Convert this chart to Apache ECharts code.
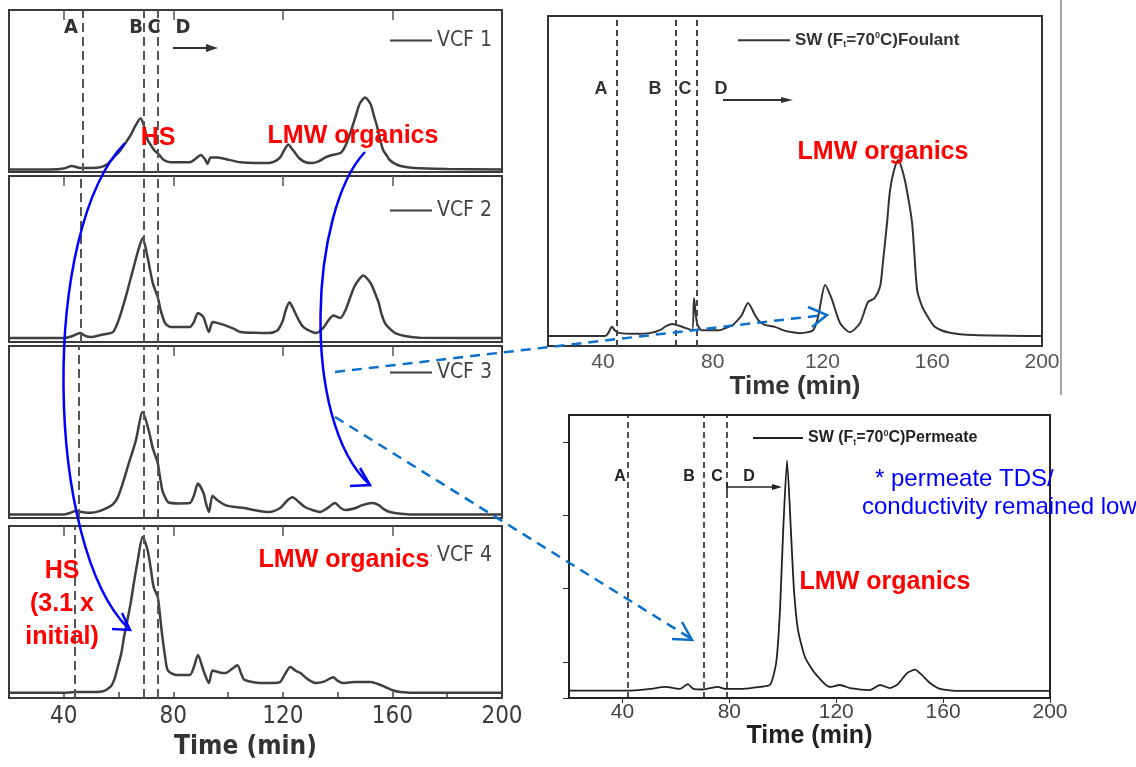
<!DOCTYPE html>
<html>
<head>
<meta charset="utf-8">
<script src="https://cdn.jsdelivr.net/npm/echarts@6/dist/echarts.min.js"></script>
<style>
  html, body { margin: 0; padding: 0; background: #fff; }
  #chart { width: 1136px; height: 767px; }
</style>
</head>
<body>
<div id="chart"></div>
<script>
// ---- Chromatogram traces: [time (min), relative response] ----
const vcf1 = [[20,1.5],[35,1.6],[40,2.2],[43,3.7],[46,2.5],[50,2.5],[53.5,3],[56,5],[58,8.6],[60.5,13],[62.6,18],[64.5,23],[66,28],[68,33],[69,30],[70.6,20],[72,16],[73,13.5],[74.6,11],[76.5,7.4],[79,6],[86,6],[88,8],[90,10.5],[91.5,8],[92.5,5],[93.6,9],[96,9],[99,8],[104.5,6],[110,5.5],[115,5.5],[117,6.5],[119,9],[120.5,13.5],[122,17],[123,15],[124.5,11.7],[126,8.5],[128,6.2],[130.7,5.5],[133,6.5],[135.5,9],[138,10.5],[141,11.7],[142.8,16],[144.6,24],[146.5,34],[148,42],[150,46],[152,42],[153.2,35],[154.4,28],[155.5,20],[156.6,13.6],[158,10],[159,7.4],[161,5],[163,3.7],[166,2.8],[170,2.3],[180,1.8],[200,1.5]];
const vcf2 = [[20,2.4],[40,2.4],[43,3.5],[46,5.4],[48,3.5],[50,3],[53.5,4.2],[56,5],[58,6],[60,13],[62.6,27],[65.5,45],[67.5,57],[68.8,62.6],[70.6,51],[72.5,35.5],[74.3,27],[75.4,19],[77,11.4],[79,9],[86,9],[87.5,12],[89,17.5],[91,15],[92,10],[93,6],[94.3,12],[96,11.5],[99,10],[102,8],[104.5,6],[110,5.5],[115,5.4],[118,7],[120,13],[121,19],[122.4,24],[123.5,21],[124.5,17.5],[126,12.5],[127.5,9],[130,6.5],[132,5.4],[134.5,8],[136.6,13],[138.4,16],[140,15],[141,14.5],[142.8,19],[144.6,27],[146,33],[147.5,37],[149.3,40],[152,35.5],[153.5,30],[155,23.5],[156,17],[157.3,11.4],[159,8],[161,5.4],[165,3.5],[170,2.6],[200,2.4]];
const vcf3 = [[20,2],[40,2],[42,2.8],[44.5,4],[47,3.3],[50,3],[53,4],[56,6],[58,8],[59.7,12],[61.5,20],[63.4,30],[66.3,45],[68.8,61.6],[71,51],[72.5,40.6],[74.3,32],[75,25],[76,16],[77,12],[78.3,9],[82,8.5],[86,8.7],[87.5,13],[89,20],[91,14.5],[92,8],[93,3.5],[94.3,13],[96,10.5],[99,7.5],[102,6.5],[106,5.8],[110,4.5],[115,3.5],[119,5.8],[121.5,10],[123.5,12],[126,9],[128,6.4],[131,4.5],[133.6,3.5],[136.5,6],[139,8.7],[141,6],[142.8,4.6],[146,5.5],[149,7.5],[152.6,8.7],[155,7.5],[157,5],[159,3.5],[163,2.5],[170,2],[200,2]];
const vcf4 = [[20,3],[40,3],[44,3.5],[50,3.5],[54,3.8],[57,6.4],[58.5,11],[59.7,18],[61,26],[62,35.5],[63.2,45],[64.4,55],[65.7,68],[67,80],[68.8,93.6],[70.6,86],[71.7,76],[72.8,64.5],[74.3,58.7],[75.2,47],[76,35.5],[77,24],[78,16],[81,13.4],[86,13.4],[87.5,18],[89,25],[91,16],[93,8.7],[94.3,16],[96.5,15],[99,14.5],[101.5,17],[103.4,19],[104.8,14],[106,10.5],[111.8,8.7],[116,8.7],[119,9.3],[120.8,14],[122.7,18],[124.5,16],[126.4,14.5],[129,11],[132,8.7],[135,9.5],[138.4,12],[140,10],[142,8.7],[146,9.3],[152,9.3],[155,8],[157.3,6.4],[160,4.5],[163,3.5],[170,3],[200,3]];
const foulant = [[20,3],[40.8,3],[42,4],[43.3,5.8],[44.5,4.6],[46.2,3.9],[52,3.7],[57,3.9],[60.8,4.8],[63,6],[65.2,6.7],[67.5,6.2],[70,5.5],[72.5,4.8],[73.2,14.5],[74.3,7],[76,4.8],[82.7,4.8],[85,5.5],[87.4,6.4],[89.2,7.9],[90.7,9.5],[92.9,13],[95.4,9.4],[97,7.5],[99,6.4],[102.7,5.8],[105.6,4.8],[108,4.3],[111.8,3.9],[116.6,4.8],[118.4,8.8],[121,18.5],[123.5,14],[126.4,7],[130,4.2],[133.7,7],[136.6,13.3],[139,14.5],[141,18],[142,25],[143.5,37],[144.6,47],[146,53],[147.6,56.4],[149.2,53],[150.8,47],[152.7,37],[154.5,17],[156.3,12],[158,9.4],[161,5.8],[166.5,4],[175,3.3],[200,3]];
const permeate = [[20,2.6],[40,2.6],[46,2.8],[50.3,3.2],[55.9,3.9],[61.5,3.2],[64.5,4.9],[66.5,3.2],[70,3],[75.8,3.9],[78.4,3.2],[85,3.2],[91.5,3.9],[95.2,4.6],[96.8,9],[97.8,14.5],[99,32],[100.1,58],[101.6,84],[103.1,58],[104.2,38],[105.7,24],[108.3,14.5],[112,8.8],[117.7,3.9],[121.4,4.6],[125.2,3.5],[132.6,2.8],[136.4,4.6],[140.1,3.5],[143.1,4.9],[146.5,8.8],[149.5,10],[152.1,8.1],[155.1,5.3],[158.8,3.2],[166.3,2.5],[200,2.5]];

// ---- Names and fraction boundaries (A, B, C; D starts at C) ----
const vcfNames = ['VCF 1', 'VCF 2', 'VCF 3', 'VCF 4'];
const foulantName = 'SW (Ft=70\u2070C)Foulant';
const permeateName = 'SW (Ft=70\u2070C)Permeate';
const vcfBoundaryA = [46.8, 46.2, 45.5, 44];
const vcfBoundaryBC = [69.2, 74.4];
const foulantBoundaries = [45.1, 66.6, 74.3];
const permeateBoundaries = [42.1, 70.5, 79.1];
const xTickLabels = [40, 80, 120, 160, 200];
const xTopTicks = [40, 80, 120, 160];
const xMinorTicks = [40, 60, 80, 100, 120, 140, 160, 180];
const permeateYTicks = [0, 12.7, 38.9, 64.7, 90.5];

const NARROW = "'Liberation Sans Narrow', 'DejaVu Sans Condensed', 'Liberation Sans', Arial, sans-serif";
const SANS = "'Liberation Sans', Arial, Helvetica, sans-serif";

const chart = echarts.init(document.getElementById('chart'), null, { renderer: 'canvas' });

// stacked VCF panels on the left
const leftBands = [[10, 162], [176, 166], [346, 172], [526, 172]];
const leftX = 9, leftW = 493;

const grids = leftBands.map(([top, height]) => ({
  left: leftX, top, width: leftW, height,
  show: true, borderColor: '#3a3a3a', borderWidth: 2, backgroundColor: 'transparent'
}));
grids.push({ left: 548, top: 16, width: 494, height: 330, show: true, borderColor: '#333', borderWidth: 2, backgroundColor: 'transparent' });
grids.push({ left: 569, top: 415, width: 481, height: 283, show: true, borderColor: '#222', borderWidth: 2, backgroundColor: 'transparent' });

const baseX = (gi) => ({
  type: 'value', gridIndex: gi, min: 20, max: 200, position: 'bottom',
  axisLine: { show: false }, splitLine: { show: false },
  axisTick: { show: false }, axisLabel: { show: false }
});

const xAxes = [];
for (let i = 0; i < 4; i++) xAxes.push(baseX(i));
// bottom axis of the last VCF panel carries labels and the axis title
Object.assign(xAxes[3], {
  axisTick: { show: true, inside: true, length: 6, customValues: xMinorTicks, lineStyle: { color: '#444', width: 1.5 } },
  axisLabel: { show: true, customValues: xTickLabels, margin: 7, fontFamily: NARROW, fontSize: 24, color: '#3a3a3a' },
  name: 'Time (min)', nameLocation: 'middle', nameGap: 36,
  nameTextStyle: { fontFamily: NARROW, fontSize: 26, fontWeight: 'bold', color: '#333', padding: [0, 20, 0, 0] }
});
// foulant axis
xAxes.push(Object.assign(baseX(4), {
  axisLabel: { show: true, customValues: xTickLabels, margin: 6, fontFamily: SANS, fontSize: 21, color: '#555' },
  name: 'Time (min)', nameLocation: 'middle', nameGap: 23,
  nameTextStyle: { fontFamily: SANS, fontSize: 26, fontWeight: 'bold', color: '#333' }
}));
// permeate axis
xAxes.push(Object.assign(baseX(5), {
  axisTick: { show: true, inside: false, length: 5, customValues: xTickLabels, lineStyle: { color: '#333' } },
  axisLabel: { show: true, customValues: xTickLabels, margin: 4, fontFamily: SANS, fontSize: 21, color: '#444' },
  name: 'Time (min)', nameLocation: 'middle', nameGap: 17,
  nameTextStyle: { fontFamily: SANS, fontSize: 25, fontWeight: 'bold', color: '#222' }
}));
// inward ticks along the top edge of each VCF panel
for (let i = 0; i < 4; i++) {
  xAxes.push({
    type: 'value', gridIndex: i, min: 20, max: 200, position: 'top',
    axisLine: { show: false }, splitLine: { show: false }, axisLabel: { show: false },
    axisTick: { show: true, inside: true, length: 10, customValues: xTopTicks, lineStyle: { color: '#555', width: 1.5 } }
  });
}

const yAxes = [];
for (let i = 0; i < 6; i++) {
  yAxes.push({
    type: 'value', gridIndex: i, min: 0, max: 100, show: i === 5,
    axisLine: { show: false }, splitLine: { show: false }, axisLabel: { show: false },
    axisTick: i === 5
      ? { show: true, inside: false, length: 6, customValues: permeateYTicks, lineStyle: { color: '#333' } }
      : { show: false }
  });
}

const boundaryLines = (values, color, width, dash) => ({
  silent: true, symbol: ['none', 'none'], animation: false,
  label: { show: false },
  lineStyle: { type: dash, color, width },
  data: values.map(v => ({ xAxis: v }))
});

const vcfData = [vcf1, vcf2, vcf3, vcf4];
const series = vcfData.map((d, i) => ({
  name: vcfNames[i], type: 'line', xAxisIndex: i, yAxisIndex: i, data: d,
  symbol: 'none', smooth: 0.25, color: '#3f3f3f',
  lineStyle: { width: 2.5, color: '#3f3f3f' },
  markLine: boundaryLines([vcfBoundaryA[i]].concat(vcfBoundaryBC), '#555', 2, [9, 5])
}));
series.push({
  name: foulantName, type: 'line', xAxisIndex: 4, yAxisIndex: 4, data: foulant,
  symbol: 'none', smooth: 0.25, color: '#333', lineStyle: { width: 2, color: '#333' },
  markLine: boundaryLines(foulantBoundaries, '#444', 2, [6, 4])
});
series.push({
  name: permeateName, type: 'line', xAxisIndex: 5, yAxisIndex: 5, data: permeate,
  symbol: 'none', smooth: 0.2, color: '#222', lineStyle: { width: 1.8, color: '#222' },
  markLine: boundaryLines(permeateBoundaries, '#222', 1.6, [6, 4])
});

const vcfLegendTops = [30, 200, 362, 545];
const legends = vcfNames.map((n, i) => ({
  data: [n], left: 390, top: vcfLegendTops[i], padding: 0, selectedMode: false,
  icon: 'rect', itemWidth: 42, itemHeight: 2,
  textStyle: { fontFamily: NARROW, fontSize: 21, color: '#444' }
}));
const richSubSup = (size) => ({
  s: { fontFamily: SANS, fontSize: 9, fontWeight: 'bold', color: '#333', padding: [size * 0.55, 0, 0, 0] },
  p: { fontFamily: SANS, fontSize: 9, fontWeight: 'bold', color: '#333', padding: [0, 0, size * 0.55, 0] }
});
legends.push({
  data: [foulantName], left: 738, top: 31, padding: 0, selectedMode: false,
  icon: 'rect', itemWidth: 52, itemHeight: 2,
  formatter: () => 'SW (F{s|t}=70{p|0}C)Foulant',
  textStyle: { fontFamily: SANS, fontSize: 17, fontWeight: 'bold', color: '#333', rich: richSubSup(17) }
});
legends.push({
  data: [permeateName], left: 753, top: 429, padding: 0, selectedMode: false,
  icon: 'rect', itemWidth: 50, itemHeight: 2,
  formatter: () => 'SW (F{s|t}=70{p|0}C)Permeate',
  textStyle: { fontFamily: SANS, fontSize: 16, fontWeight: 'bold', color: '#222', rich: richSubSup(16) }
});

// ---- annotation helpers ----
const RED = '#ff0000', BLUE = '#0000ff', LINKBLUE = '#0a70c8';
const text = (x, y, t, font, fill, extra) => ({
  type: 'text', z: 100,
  style: Object.assign({ x, y, text: t, font, fill, align: 'center', verticalAlign: 'middle' }, extra || {})
});
const seg = (x1, y1, x2, y2, stroke, lineWidth, lineDash) => ({
  type: 'line', z: 100, shape: { x1, y1, x2, y2 },
  style: { stroke, lineWidth, lineDash: lineDash || null }
});
const chevron = (pts, stroke, lineWidth) => ({
  type: 'polyline', z: 100, shape: { points: pts },
  style: { stroke, lineWidth, fill: null }
});
const head = (pts, fill) => ({ type: 'polygon', z: 100, shape: { points: pts }, style: { fill } });
const curve = (s, stroke, lineWidth) => ({
  type: 'bezierCurve', z: 100, shape: s, style: { stroke, lineWidth, fill: null }
});

const redFont = `bold 25px ${SANS}`;
const letterLeft = `bold 20px ${NARROW}`;
const graphics = [
  // fraction letters, left panel
  text(71, 28, 'A', letterLeft, '#333'),
  text(136, 28, 'B', letterLeft, '#333'),
  text(154, 28, 'C', letterLeft, '#333'),
  text(183, 28, 'D', letterLeft, '#333'),
  seg(173, 48, 208, 48, '#333', 2),
  head([[206, 44], [218, 48], [206, 52]], '#333'),
  // fraction letters, foulant
  text(601, 89, 'A', `bold 18px ${SANS}`, '#333'),
  text(655, 89, 'B', `bold 18px ${SANS}`, '#333'),
  text(685, 89, 'C', `bold 18px ${SANS}`, '#333'),
  text(721, 89, 'D', `bold 18px ${SANS}`, '#333'),
  seg(723, 100, 784, 100, '#333', 1.8),
  head([[781, 97], [793, 100], [781, 103]], '#333'),
  // fraction letters, permeate
  text(620, 477, 'A', `bold 16px ${SANS}`, '#222'),
  text(689, 477, 'B', `bold 16px ${SANS}`, '#222'),
  text(717, 477, 'C', `bold 16px ${SANS}`, '#222'),
  text(749, 477, 'D', `bold 16px ${SANS}`, '#222'),
  seg(727, 487, 774, 487, '#222', 1.6),
  seg(727, 482, 727, 492, '#222', 1.6),
  head([[772, 484], [782, 487], [772, 490]], '#222'),

  // peak group labels
  text(158, 138, 'HS', redFont, RED),
  text(353, 136, 'LMW organics', redFont, RED),
  text(883, 152, 'LMW organics', redFont, RED),
  text(344, 560, 'LMW organics', redFont, RED, { backgroundColor: '#fff', padding: [0, 2, 0, 2] }),
  text(62, 604, 'HS\n(3.1 x\ninitial)', redFont, RED, { lineHeight: 33 }),
  text(885, 582, 'LMW organics', redFont, RED),

  // note on permeate quality
  text(875, 479, '* permeate TDS/', `24px ${SANS}`, BLUE, { align: 'left' }),
  text(862, 507, 'conductivity remained low', `24px ${SANS}`, BLUE, { align: 'left' }),

  // HS and LMW evolution across VCF
  curve({ x1: 125, y1: 143, cpx1: 40, cpy1: 230, cpx2: 45, cpy2: 545, x2: 128, y2: 628 }, BLUE, 2.5),
  chevron([[112, 629], [130, 630], [122, 613]], BLUE, 2.5),
  curve({ x1: 365, y1: 152, cpx1: 310, cpy1: 210, cpx2: 300, cpy2: 420, x2: 369, y2: 484 }, BLUE, 2.5),
  chevron([[350, 486], [370, 485], [360, 468]], BLUE, 2.5),

  // links from VCF 3 to foulant and permeate
  seg(335, 372, 824, 315, LINKBLUE, 2.5, [10, 7]),
  chevron([[808, 307], [827, 315], [812, 327]], LINKBLUE, 2.5),
  seg(335, 417, 690, 638, LINKBLUE, 2.5, [10, 7]),
  chevron([[682, 622], [692, 640], [672, 639]], LINKBLUE, 2.5),

  // panel edge at right of foulant figure
  seg(1061, 0, 1061, 395, '#888', 1.5)
];

chart.setOption({
  animation: false,
  backgroundColor: '#fff',
  grid: grids,
  xAxis: xAxes,
  yAxis: yAxes,
  legend: legends,
  series,
  graphic: graphics
});
</script>
</body>
</html>
